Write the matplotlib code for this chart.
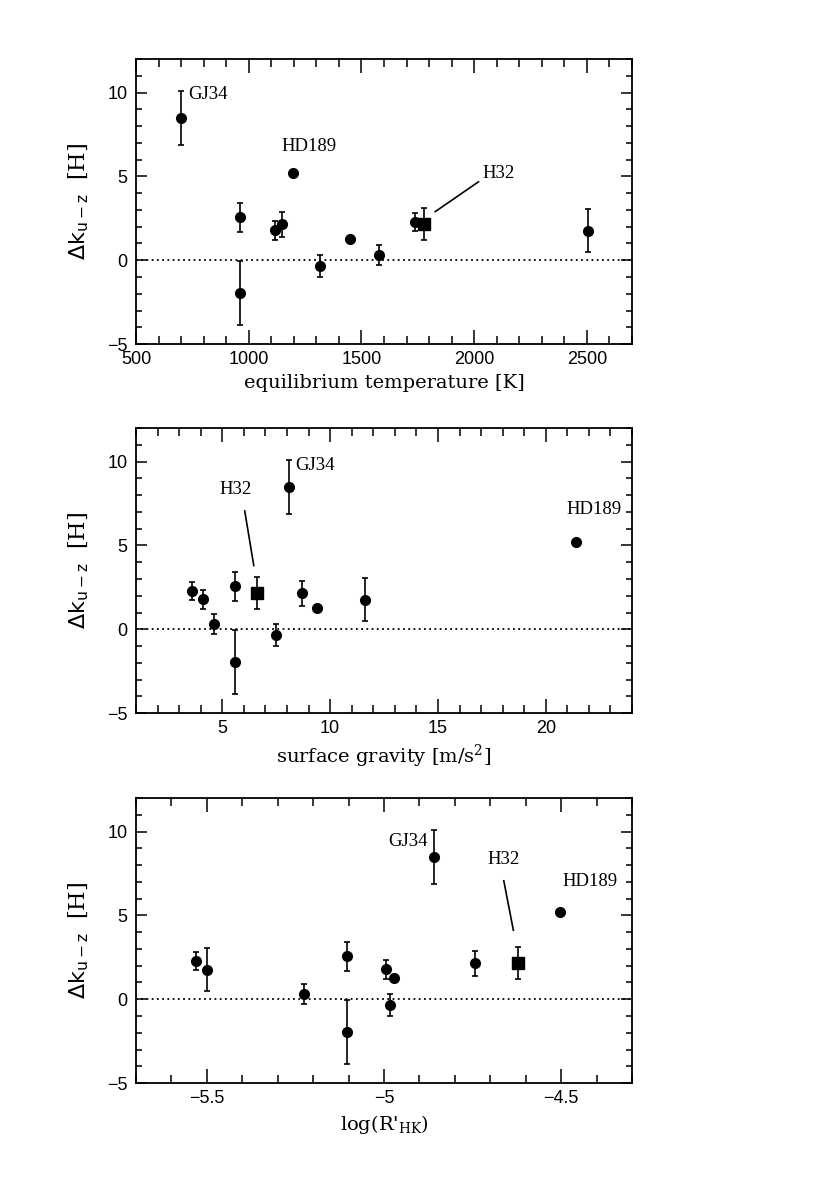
import matplotlib
matplotlib.use('Agg')
import matplotlib.pyplot as plt
from matplotlib.ticker import MultipleLocator, FuncFormatter
import numpy as np

# measurements, one entry per planet spectrum
names = ['GJ34', '', '', '', '', 'HD189', '', '', '', '', 'H32', '']
t_eq = [700, 960, 960, 1118, 1147, 1196, 1317, 1447, 1577, 1736, 1777, 2504]
grav = [8.1, 5.6, 5.6, 4.09, 8.68, 21.4, 7.48, 9.4, 4.6, 3.58, 6.6, 11.6]
log_rhk = [-4.86, -5.105, -5.105, -4.995, -4.742, -4.502, -4.984, -4.971, -5.227, -5.532, -4.621, -5.501]
dk = [8.5, 2.56, -1.95, 1.8, 2.15, 5.2, -0.35, 1.24, 0.32, 2.27, 2.17, 1.77]
dk_err = [1.6, 0.88, 1.93, 0.57, 0.74, 0.2, 0.66, 0.15, 0.59, 0.54, 0.95, 1.28]

plt.rcParams['font.family'] = ['Liberation Sans', 'DejaVu Sans']
plt.rcParams['mathtext.fontset'] = 'dejavusans'

serif = ['DejaVu Serif']
fmt = FuncFormatter(lambda v, pos: ('%g' % v).replace('-', '\u2212'))

fig = plt.figure(figsize=(8.30, 11.97), dpi=100)

panels = [
    dict(x=t_eq, xlim=(500, 2700), major=500, minor=100,
         xlabel='equilibrium temperature [K]', bottom=0.7126,
         labels={'GJ34': (731, 9.9, 'left'), 'HD189': (1147, 6.8, 'left'), 'H32': (2037, 5.2, 'left')},
         line=((1827, 2.9), (2019, 4.68))),
    dict(x=grav, xlim=(1, 24), major=5, minor=1,
         xlabel=r'surface gravity [m/s$^{\mathregular{2}}$]', bottom=0.4043,
         labels={'GJ34': (8.39, 9.76, 'left'), 'HD189': (20.97, 7.16, 'left'), 'H32': (4.85, 8.34, 'left')},
         line=((6.04, 7.06), (6.46, 3.8))),
    dict(x=log_rhk, xlim=(-5.7, -4.3), major=0.5, minor=0.1,
         xlabel=r"log(R$'_{\mathregular{HK}}$)", bottom=0.0952,
         labels={'GJ34': (-4.876, 9.44, 'right'), 'HD189': (-4.497, 7.05, 'left'), 'H32': (-4.708, 8.35, 'left')},
         line=((-4.662, 7.07), (-4.635, 4.12))),
]

for p in panels:
    ax = fig.add_axes([0.1639, p['bottom'], 0.5976, 0.238])
    x = np.array(p['x'])
    y = np.array(dk)
    e = np.array(dk_err)
    sq = np.array([n == 'H32' for n in names])

    ax.axhline(0, color='black', lw=1.3, ls=(0, (1, 1.9)), zorder=1)
    ax.errorbar(x[~sq], y[~sq], yerr=e[~sq], fmt='o', color='black', ms=7,
                capsize=2.3, elinewidth=1.2, capthick=1.2, zorder=3)
    ax.errorbar(x[sq], y[sq], yerr=e[sq], fmt='s', color='black', ms=9,
                capsize=2.3, elinewidth=1.2, capthick=1.2, zorder=3)

    for name, (tx, ty, ha) in p['labels'].items():
        ax.text(tx, ty, name, ha=ha, va='center', fontsize=13.5,
                family=['Liberation Serif', 'DejaVu Serif'])
    (x0, y0), (x1, y1) = p['line']
    ax.plot([x0, x1], [y0, y1], color='black', lw=1.2)

    ax.set_xlim(*p['xlim'])
    ax.set_ylim(-5, 12)
    ax.xaxis.set_major_locator(MultipleLocator(p['major']))
    ax.xaxis.set_minor_locator(MultipleLocator(p['minor']))
    ax.yaxis.set_major_locator(MultipleLocator(5))
    ax.yaxis.set_minor_locator(MultipleLocator(1))
    ax.xaxis.set_major_formatter(fmt)
    ax.yaxis.set_major_formatter(fmt)
    ax.tick_params(which='both', direction='in', top=True, right=True, width=1.1, labelsize=13)
    ax.tick_params(axis='x', which='major', length=10, pad=5)
    ax.tick_params(axis='x', which='minor', length=5.5)
    ax.tick_params(axis='y', which='major', length=8, pad=6)
    ax.tick_params(axis='y', which='minor', length=4.5)
    for s in ax.spines.values():
        s.set_linewidth(1.3)

    ax.set_xlabel(p['xlabel'], fontsize=14, family=serif, labelpad=4)
    ax.set_ylabel(r'$\Delta\mathrm{k}_{\mathrm{u-z}}$  [H]', fontsize=16, family=serif, labelpad=12)

fig.savefig('out.png', dpi=100)
